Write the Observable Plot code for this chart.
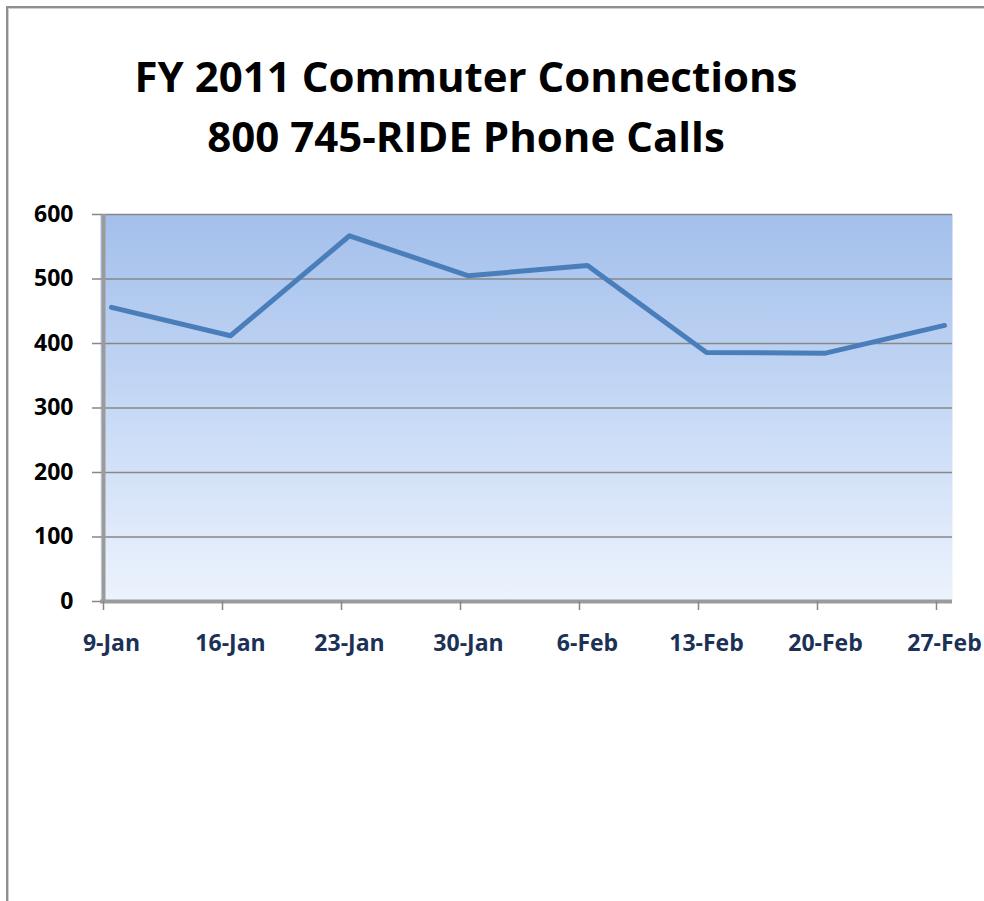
<!DOCTYPE html>
<html>
<head>
<meta charset="utf-8">
<script src="https://cdn.jsdelivr.net/npm/d3@7"></script>
<script src="https://cdn.jsdelivr.net/npm/@observablehq/plot@0.6"></script>
<style>
  body { margin:0; background:#fff; width:984px; height:901px; overflow:hidden; position:relative; font-family:"Open Sans", sans-serif; }
  #frame { position:absolute; left:6px; top:6px; width:1100px; height:1000px; border-left:2px solid #8f8f8f; border-top:2px solid #8f8f8f; box-shadow: inset 1px 1px 0 #d0d0d0; }
  #title { position:absolute; left:0; width:932px; top:46px; text-align:center; font-weight:700; font-size:42px; line-height:60px; color:#000; }
  #chart { position:absolute; left:0; top:190px; }
</style>
</head>
<body>
<div id="frame"></div>
<div id="title">FY 2011 Commuter Connections<br>800 745-RIDE Phone Calls</div>
<div id="chart"></div>
<script>
const dates = ["9-Jan", "16-Jan", "23-Jan", "30-Jan", "6-Feb", "13-Feb", "20-Feb", "27-Feb"];
const calls = [456, 412, 567, 505, 521, 386, 385, 428];
const yTicks = [0, 100, 200, 300, 400, 500, 600];

const data = dates.map((d, i) => ({date: d, calls: calls[i]}));

const plot = Plot.plot({
  width: 984,
  height: 480,
  marginLeft: 100,
  marginRight: 32,
  marginTop: 24,
  marginBottom: 69,
  style: {fontFamily: "Open Sans", background: "transparent", overflow: "visible"},
  x: {type: "point", domain: dates, range: [108, 946], padding: 0},
  y: {domain: [0, 600]},
  marks: [
    Plot.frame({fill: "url(#plotBg)"}),
    Plot.gridY(yTicks, {stroke: "#878787", strokeOpacity: 1, strokeWidth: 1.5}),
    Plot.ruleY([0], {stroke: "#9b9b9b", strokeWidth: 4}),
    Plot.ruleX([dates[0]], {y1: 0, y2: 600, dx: -8, stroke: "#9b9b9b", strokeWidth: 4}),
    Plot.axisY(yTicks, {tickSize: 8, tickPadding: 19, fontSize: 23, fontWeight: 700, fill: "#000", stroke: "#878787", strokeWidth: 1.5, label: null}),
    Plot.axisX({tickSize: 9, tickFormat: () => "", dx: -8, stroke: "#878787", strokeWidth: 1.5, label: null}),
    Plot.axisX({tickSize: 0, tickPadding: 33, fontSize: 23, fontWeight: 700, fill: "#1b3156", label: null}),
    Plot.line(data, {x: "date", y: "calls", stroke: "#4a7ebb", strokeWidth: 5, strokeLinejoin: "round", strokeLinecap: "round"})
  ]
});

const ns = "http://www.w3.org/2000/svg";
const defs = document.createElementNS(ns, "defs");
const grad = document.createElementNS(ns, "linearGradient");
grad.setAttribute("id", "plotBg");
grad.setAttribute("x1", "0"); grad.setAttribute("y1", "0");
grad.setAttribute("x2", "0"); grad.setAttribute("y2", "1");
[["0%", "#a3bfeb"], ["50%", "#c6d9f5"], ["100%", "#edf3fd"]].forEach(([o, c]) => {
  const s = document.createElementNS(ns, "stop");
  s.setAttribute("offset", o); s.setAttribute("stop-color", c);
  grad.appendChild(s);
});
defs.appendChild(grad);
plot.insertBefore(defs, plot.firstChild);

document.getElementById("chart").appendChild(plot);
</script>
</body>
</html>
